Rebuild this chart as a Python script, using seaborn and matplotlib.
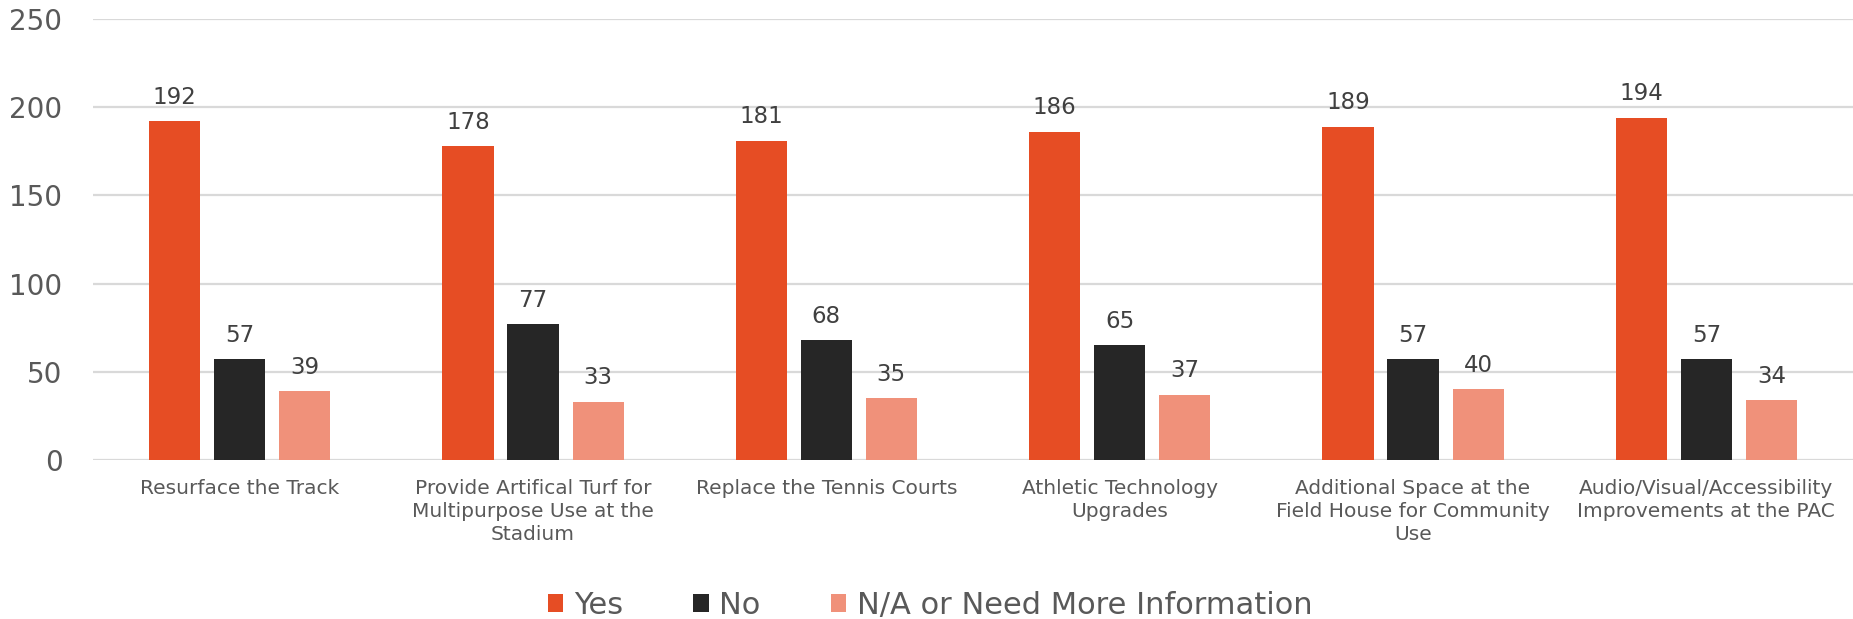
import matplotlib
matplotlib.use("Agg")
import matplotlib.pyplot as plt
import seaborn as sns
import pandas as pd

categories = [
    "Resurface the Track",
    "Provide Artifical Turf for\nMultipurpose Use at the\nStadium",
    "Replace the Tennis Courts",
    "Athletic Technology\nUpgrades",
    "Additional Space at the\nField House for Community\nUse",
    "Audio/Visual/Accessibility\nImprovements at the PAC",
]
series_names = ["Yes", "No", "N/A or Need More Information"]
yes_values = [192, 178, 181, 186, 189, 194]
no_values = [57, 77, 68, 65, 57, 57]
na_values = [39, 33, 35, 37, 40, 34]
y_ticks = [0, 50, 100, 150, 200, 250]
colors = ["#E64D24", "#262626", "#F0917A"]

rows = []
for name, vals in zip(series_names, [yes_values, no_values, na_values]):
    for c, v in zip(categories, vals):
        rows.append({"category": c, "series": name, "value": v})
df = pd.DataFrame(rows)

sns.set_theme(style="white")
plt.rcParams["font.family"] = ["DejaVu Sans"]

fig = plt.figure(figsize=(18.53, 6.19), dpi=100)
ax = fig.add_axes([0.0502, 0.2569, 0.9498, 0.7124])

sns.barplot(data=df, x="category", y="value", hue="series",
            order=categories, hue_order=series_names, palette=colors,
            width=0.665, gap=0.215, ax=ax, saturation=1, errorbar=None,
            linewidth=0)

for cont in ax.containers:
    ax.bar_label(cont, fmt="%d", padding=9, fontsize=16.5, color="#404040")

ax.set_ylim(0, 250)
ax.set_xlim(-0.5, 5.5)
ax.set_yticks(y_ticks)
ax.set_yticklabels([str(t) for t in y_ticks])
ax.yaxis.grid(True, color="#D9D9D9", linewidth=1.6)
ax.set_axisbelow(True)
for s in ax.spines.values():
    s.set_visible(False)
ax.tick_params(axis="y", length=0, pad=22, labelsize=20, labelcolor="#595959")
ax.tick_params(axis="x", length=0, pad=14, labelsize=14.5, labelcolor="#595959")
for lab in ax.get_xticklabels():
    lab.set_multialignment("center")
    lab.set_linespacing(1.26)
ax.set_xlabel("")
ax.set_ylabel("")

handles, labels = ax.get_legend_handles_labels()
ax.get_legend().remove()
leg = fig.legend(handles, labels, loc="center", bbox_to_anchor=(0.502, 0.022),
                 ncol=3, frameon=False, fontsize=22, handlelength=0.5,
                 handleheight=0.5, handletextpad=0.35, columnspacing=2.3)
for t in leg.get_texts():
    t.set_color("#595959")

fig.savefig("out.png", dpi=100)
